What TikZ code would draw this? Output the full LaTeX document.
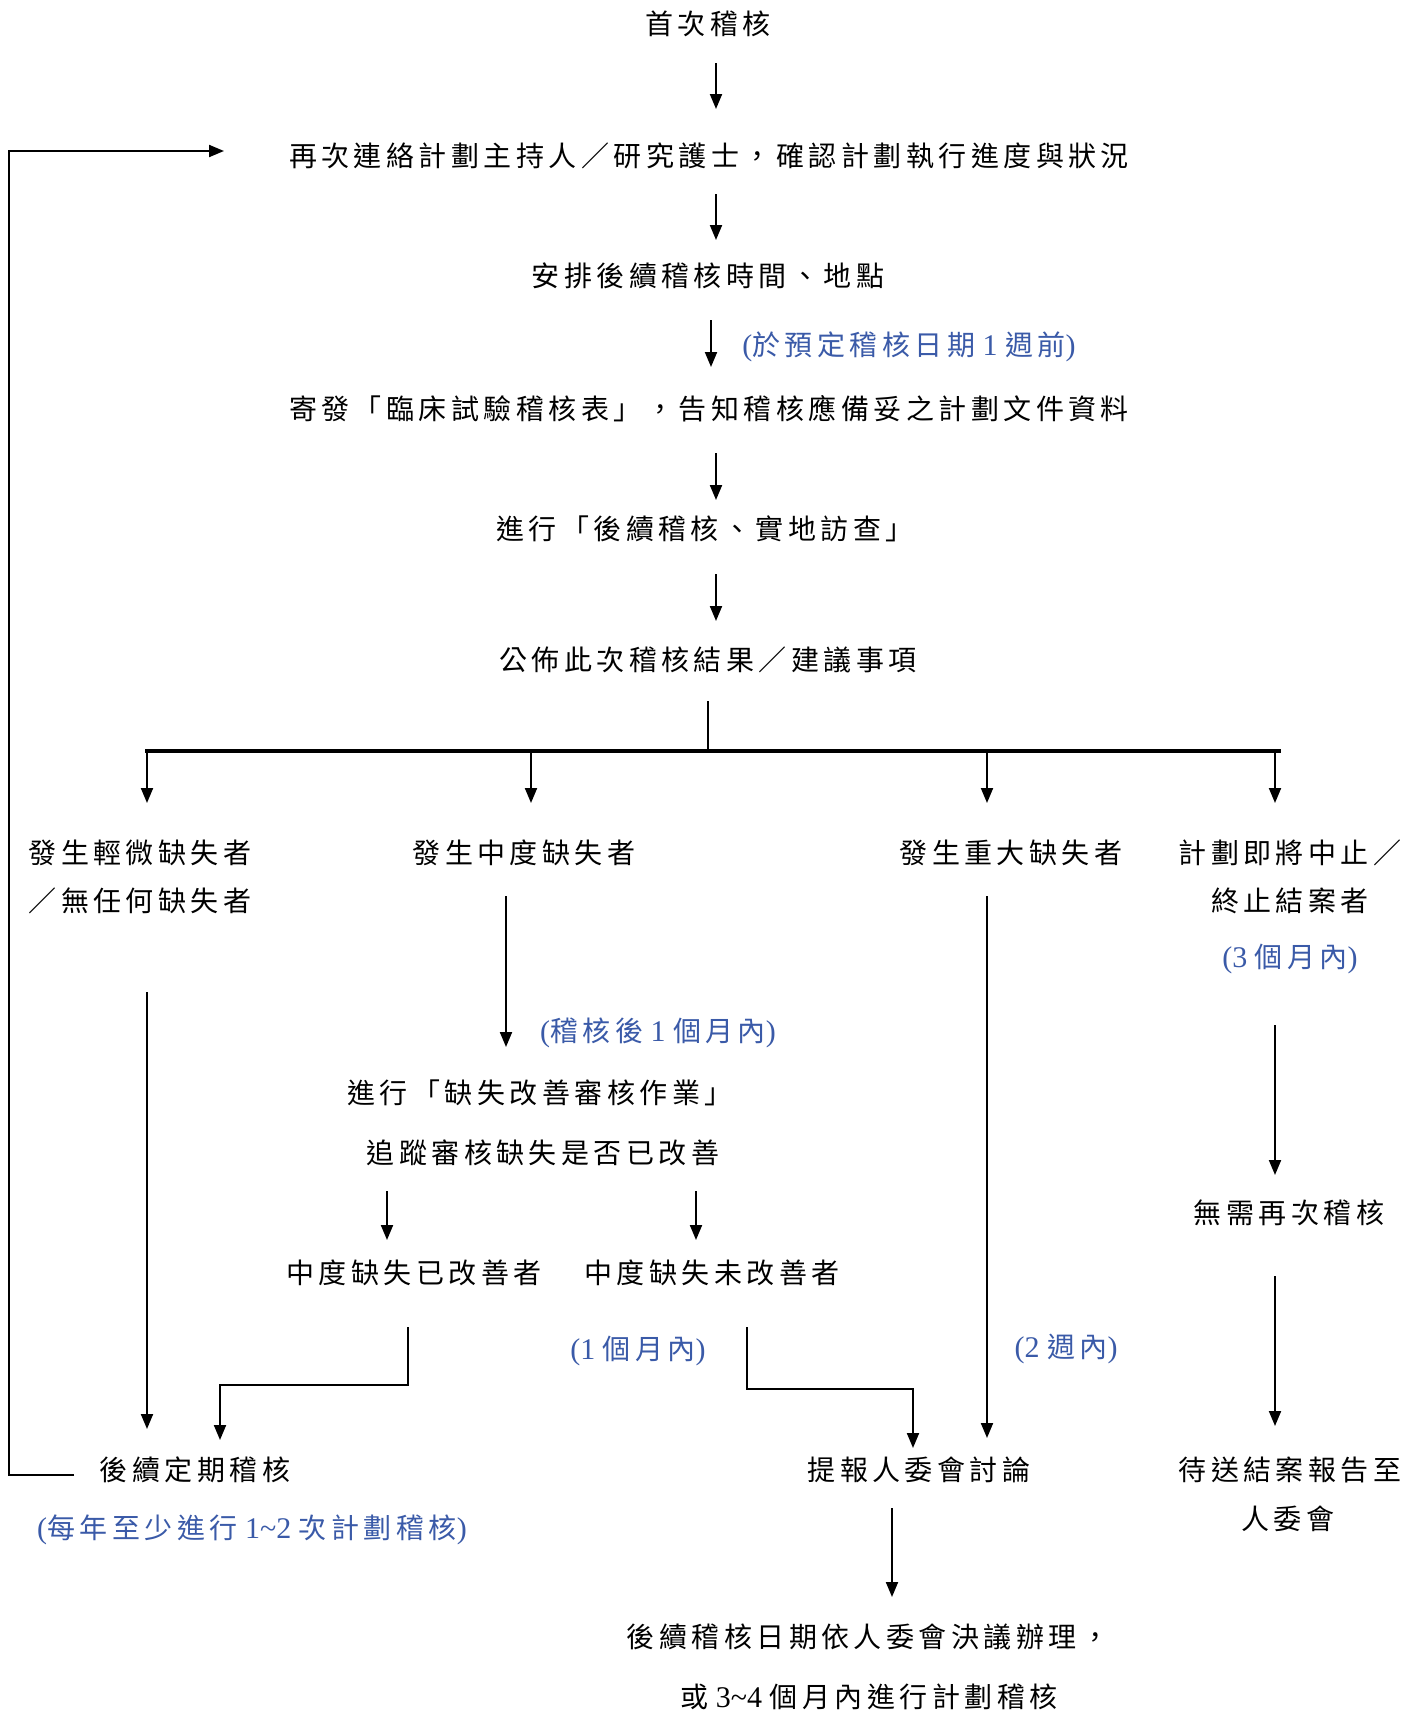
\documentclass[tikz,border=0pt]{standalone}
\usepackage{fontspec}
\setmainfont{Noto Sans CJK TC}[LetterSpace=16]
\newfontfamily\latfont{Liberation Serif}
\usetikzlibrary{arrows.meta,calc}
\definecolor{lblue}{RGB}{58,90,168}
\newcommand\latn[1]{{\latfont\fontsize{15pt}{17pt}\selectfont #1}}
\begin{document}
\begin{tikzpicture}[x=0.5pt,y=-0.5pt,
  txt/.style={inner sep=0pt, font=\fontsize{14pt}{16pt}\selectfont},
  lbl/.style={txt, text=lblue},
  arr/.style={line width=1pt, -{Triangle[length=7.5pt,width=6pt]}},
  ln/.style={line width=1pt},
  busline/.style={line width=1.8pt}]
\fill[white] (0,0) rectangle (1416,1713);
\useasboundingbox (0,0) rectangle (1416,1713);

% main column
\node[txt] (t0) at (708,24) {首次稽核};
\node[txt] (t1) at (709,156) {再次連絡計劃主持人／研究護士，確認計劃執行進度與狀況};
\node[txt] (t2) at (708,276) {安排後續稽核時間、地點};
\node[lbl] (lab1) at (909,347) {\latn{(}於預定稽核日期\latn{ 1 }週前\latn{)}};
\node[txt] (t3) at (709,409) {寄發「臨床試驗稽核表」，告知稽核應備妥之計劃文件資料};
\node[txt] (t4) at (705,529) {進行「後續稽核、實地訪查」};
\node[txt] (t5) at (708,660) {公佈此次稽核結果／建議事項};
\coordinate (bus) at (708,751);

% categories
\node[txt] (c1a) at (140,853) {發生輕微缺失者};
\node[txt] (c1b) at (140,901) {／無任何缺失者};
\node[txt] (c2) at (524,853) {發生中度缺失者};
\node[txt] (c3) at (1011,853) {發生重大缺失者};
\node[txt] (c4a) at (1290,853) {計劃即將中止／};
\node[txt] (c4b) at (1290,901) {終止結案者};
\node[lbl] (lab4) at (1290,959) {\latn{(3 }個月內\latn{)}};

% middle branch
\node[lbl] (lab2) at (658,1033) {\latn{(}稽核後\latn{ 1 }個月內\latn{)}};
\node[txt] (m1) at (540,1093) {進行「缺失改善審核作業」};
\node[txt] (m2) at (543,1153) {追蹤審核缺失是否已改善};
\node[txt] (m3) at (414,1273) {中度缺失已改善者};
\node[txt] (m4) at (712,1273) {中度缺失未改善者};
\node[lbl] (lab3) at (638,1351) {\latn{(1 }個月內\latn{)}};
\node[lbl] (lab5) at (1066,1349) {\latn{(2 }週內\latn{)}};
\node[txt] (n1) at (1289,1213) {無需再次稽核};

% ends
\node[txt] (e1) at (195,1470) {後續定期稽核};
\node[lbl] (lab6) at (252,1530) {\latn{(}每年至少進行\latn{ 1\textasciitilde 2 }次計劃稽核\latn{)}};
\node[txt] (e2) at (919,1470) {提報人委會討論};
\node[txt] (e3a) at (1290,1470) {待送結案報告至};
\node[txt] (e3b) at (1288,1519) {人委會};
\node[txt] (f1) at (868,1637) {後續稽核日期依人委會決議辦理，};
\node[txt] (f2) at (869,1697) {或\latn{ 3\textasciitilde 4 }個月內進行計劃稽核};

% connectors, main column
\draw[arr] ($(t0)+(8,39)$) -- ($(t1)+(7,-47)$);
\draw[arr] ($(t1)+(7,38)$) -- ($(t2)+(8,-36)$);
\draw[arr] ($(t2)+(3,44)$) -- ($(t3)+(2,-42)$);
\draw[arr] ($(t3)+(7,44)$) -- ($(t4)+(11,-29)$);
\draw[arr] ($(t4)+(11,45)$) -- ($(t5)+(8,-39)$);
\draw[ln] ($(t5)+(0,41)$) -- (bus);
\draw[busline] ($(bus -| c1a)+(5,0)$) -- ($(bus -| c4a)+(-9,0)$);
\draw[arr] ($(bus -| c1a)+(7,0)$) -- ($(c1a)+(7,-50)$);
\draw[arr] ($(bus -| c2)+(7,0)$) -- ($(c2)+(7,-50)$);
\draw[arr] ($(bus -| c3)+(-24,0)$) -- ($(c3)+(-24,-50)$);
\draw[arr] ($(bus -| c4a)+(-15,0)$) -- ($(c4a)+(-15,-50)$);

% branches
\draw[arr] ($(c1b)+(7,91)$) -- ($(e1)+(-48,-41)$);
\draw[arr] ($(c2)+(-18,43)$) -- ($(m1)+(-34,-46)$);
\draw[arr] ($(m2)+(-156,38)$) -- ($(m3)+(-27,-33)$);
\draw[arr] ($(m2)+(153,38)$) -- ($(m4)+(-16,-33)$);
\draw[arr] ($(m3)+(-6,54)$) |- ($(e1)+(25,-85)$) -- ($(e1)+(25,-30)$);
\draw[arr] ($(m4)+(35,54)$) |- ($(e2)+(-6,-81)$) -- ($(e2)+(-6,-22)$);
\draw[arr] ($(c3)+(-24,43)$) -- ($(e2)+(68,-32)$);
\draw[arr] ($(lab4)+(-15,66)$) -- ($(n1)+(-14,-38)$);
\draw[arr] ($(n1)+(-14,63)$) -- ($(e3a)+(-15,-44)$);
\draw[arr] ($(e2)+(-27,38)$) -- ($(f1)+(24,-40)$);

% loop back
\draw[arr] ($(e1)+(-121,5)$) -- ($(e1)+(-186,5)$) |- ($(t1)+(-485,-5)$);
\end{tikzpicture}
\end{document}
